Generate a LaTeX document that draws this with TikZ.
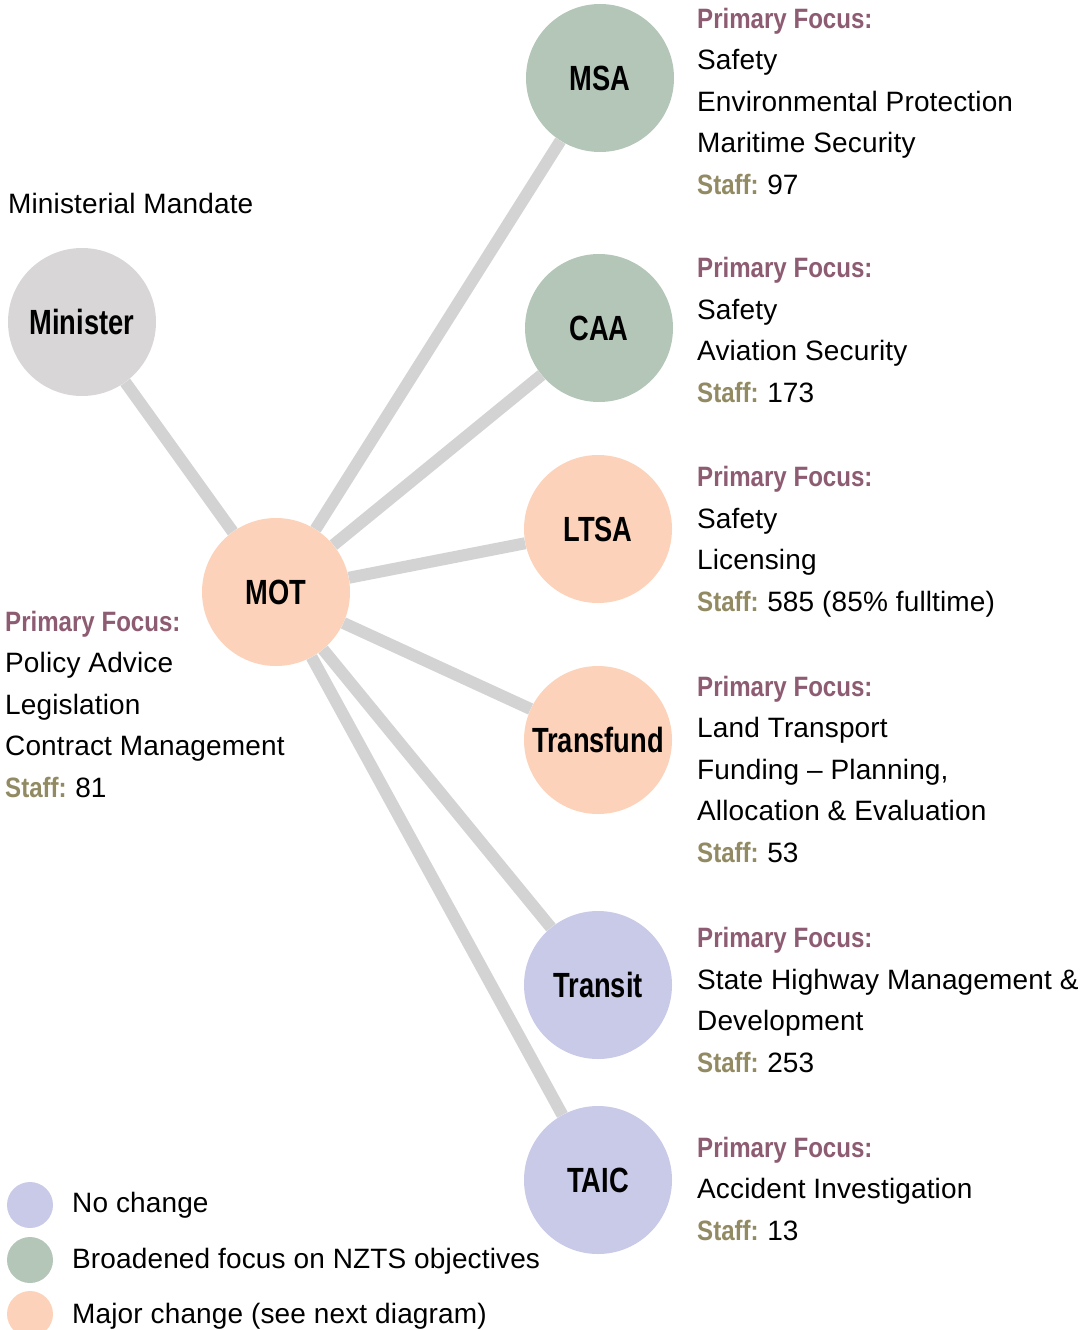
\documentclass[tikz,border=0pt]{standalone}
\usepackage{fontspec}
\setmainfont{Liberation Sans}[LetterSpace=0.5]
\newfontfamily\labelfont{Liberation Sans}[FakeStretch=0.78]
\newfontfamily\headfont{Liberation Sans}[FakeStretch=0.86]

\definecolor{mingray}{HTML}{D8D6D7}
\definecolor{broadgreen}{HTML}{B3C6B8}
\definecolor{majorpeach}{HTML}{FCD3BA}
\definecolor{nochangeblue}{HTML}{C9C9E8}
\definecolor{linkgray}{HTML}{D3D3D3}
\definecolor{focuscol}{HTML}{8E5C72}
\definecolor{staffcol}{HTML}{928A62}

\newcommand{\focus}{{\color{focuscol}\headfont\bfseries Primary Focus:}}
\newcommand{\staff}[1]{{\color{staffcol}\headfont\bfseries Staff:}\hspace{-2pt} #1}

\begin{document}
\begin{tikzpicture}[x=1pt, y=-1pt,
    agency/.style={circle, inner sep=0pt, minimum size=148pt,
      font=\labelfont\bfseries\fontsize{35}{40}\selectfont},
    link/.style={linkgray, line width=12pt},
    info/.style={anchor=base west, align=left, inner sep=0pt,
      font=\fontsize{28}{41.5}\selectfont},
    key/.style={circle, inner sep=0pt, minimum size=46pt}]
  \useasboundingbox (0,0) rectangle (1091,1330);

  % Circles
  \node[agency, fill=mingray] (minister) at (82,322) {Minister};
  \node[agency, fill=majorpeach] (mot) at (276,592) {MOT};
  \node[agency, fill=broadgreen] (msa) at (600,78) {MSA};
  \node[agency, fill=broadgreen] (caa) at (599,328) {CAA};
  \node[agency, fill=majorpeach] (ltsa) at (598,529) {LTSA};
  \node[agency, fill=majorpeach] (transfund) at (598,740) {Transfund};
  \node[agency, fill=nochangeblue] (transit) at (598,985) {Transit};
  \node[agency, fill=nochangeblue] (taic) at (598,1180) {TAIC};

  % Links from MOT
  \draw[link] (minister) -- (mot);
  \foreach \agent in {msa, caa, ltsa, transfund, transit, taic}
    \draw[link] (mot) -- (\agent);

  % Texts (placed at the baseline of their last line)
  \node[info] (mandate) at (8,213) {Ministerial Mandate};
  \node[info] (motinfo) at (5,797) {\focus\\Policy Advice\\Legislation\\Contract Management\\\staff{81}};
  \node[info] (msainfo) at (697,194) {\focus\\Safety\\Environmental Protection\\Maritime Security\\\staff{97}};
  \node[info] (caainfo) at (697,402) {\focus\\Safety\\Aviation Security\\\staff{173}};
  \node[info] (ltsainfo) at (697,611) {\focus\\Safety\\Licensing\\\staff{585 (85\% fulltime)}};
  \node[info] (transfundinfo) at (697,862) {\focus\\Land Transport\\Funding -- Planning,\\Allocation \& Evaluation\\\staff{53}};
  \node[info] (transitinfo) at (697,1072) {\focus\\State Highway Management \&\\Development\\\staff{253}};
  \node[info] (taicinfo) at (697,1240) {\focus\\Accident Investigation\\\staff{13}};

  % Legend
  \node[key, fill=nochangeblue] (key1) at (30,1205) {};
  \node[key, fill=broadgreen] (key2) at (30,1260) {};
  \node[key, fill=majorpeach] (key3) at (30,1314) {};
  \node[info] at (72,1212) {No change};
  \node[info] at (72,1268) {Broadened focus on NZTS objectives};
  \node[info] at (72,1323) {Major change (see next diagram)};
\end{tikzpicture}
\end{document}
